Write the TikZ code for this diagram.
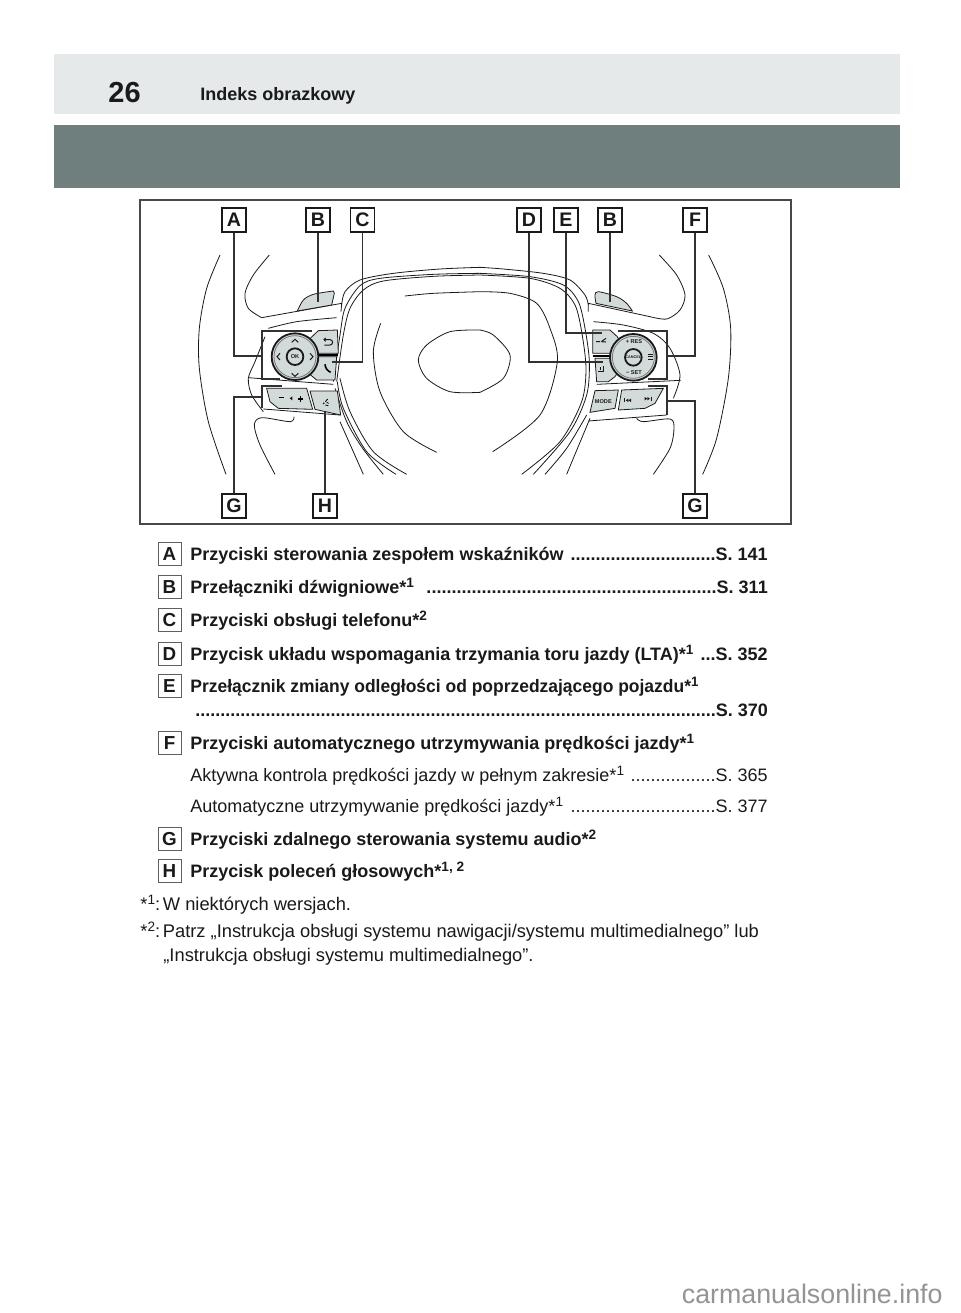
\documentclass[tikz,border=0pt]{standalone}
\usepackage{fontspec}
\setmainfont{Liberation Sans}
\usetikzlibrary{calc,positioning}
\definecolor{idx band}{HTML}{E6E9EA}
\definecolor{idx head}{HTML}{6F7F7D}
\definecolor{idx button}{HTML}{D3DADA}
\definecolor{idx ink}{HTML}{1A1A1A}
\tikzset{
 idx badge/.style={draw=idx ink,line width=.75pt,fill=white,minimum size=12pt,inner sep=0pt,
                   font=\fontsize{9.8}{10}\selectfont\bfseries,text=idx ink},
 idx key/.style={draw=idx ink!70,line width=.5pt,fill=white,minimum size=11.5pt,inner sep=0pt,
                 font=\fontsize{9.4}{10}\selectfont\bfseries,text=idx ink},
 idx leader/.style={line width=.6pt,draw=idx ink!90},
 idx bold/.style={anchor=base west,inner sep=0pt,text=idx ink,font=\fontsize{9}{10}\selectfont\bfseries},
 idx plain/.style={anchor=base west,inner sep=0pt,text=idx ink,font=\fontsize{9}{10}\selectfont},
 idx note/.style={idx plain,font=\fontsize{9.15}{10}\selectfont},
 idx right/.style={anchor=base east,inner sep=0pt},
 idx wheel/.style={line width=.4pt,draw=idx ink},
 idx btn/.style={line width=.4pt,draw=idx ink,fill=idx button},
 idx dial/.style={line width=.9pt,draw=idx ink,fill=idx button},
 idx icon/.style={line width=.5pt,draw=idx ink},
 idx tiny/.style={inner sep=0pt,text=idx ink,font=\fontsize{2.8}{3}\selectfont\bfseries},
 wheel left/.style={shift={(140,195)},scale=1/3},
 wheel right/.style={shift={(470,195)},scale=1/3}
}
\newcommand{\rmark}[1]{\raisebox{2.9pt}{\fontsize{6.8}{7}\selectfont #1}}
\begin{document}
\begin{tikzpicture}[x=.5pt,y=-.5pt]
 \useasboundingbox (0,0) rectangle (960,1313);
 \fill[white] (0,0) rectangle (960,1313);

 % Page head.
 \fill[idx band] (54,54) rectangle (900,114);
 \fill[idx head] (54,125) rectangle (900,188);
 \node[idx bold,font=\fontsize{14.5}{16}\selectfont\bfseries] (pagenum) at (108,102) {26};
 \node[idx bold] (pagetitle) at (200,100) {Indeks obrazkowy};

 \draw[line width=.6pt,draw=idx ink!80] (140,200) rectangle (791,524);

 % Left half of the wheel, in crop coordinates.
 \begin{scope}[wheel left]
  \draw[idx wheel] plot[smooth] coordinates {(240,180) (200,280) (178,400) (178,520) (205,680) (258,838)};
  \draw[idx wheel] plot[smooth] coordinates {(388,180) (340,240) (315,295) (325,340) (365,368)};
  \draw[idx wheel] (365,368) -- (605,325) -- (603,350);
  \filldraw[idx btn] plot[smooth] coordinates {(472,348) (490,315) (520,298) (580,288)} -- (583,295) -- (575,330) -- cycle;
  \draw[idx wheel] plot[smooth] coordinates {(605,330) (615,290) (660,255) (760,235) (900,222) (1020,217)};
  \draw[idx wheel] plot[smooth] coordinates {(580,560) (600,420) (615,340) (660,272) (720,250) (880,238) (1020,235)};
  \draw[idx wheel] plot[smooth] coordinates {(590,560) (610,420) (630,340) (670,285) (730,258) (880,244) (1020,240)};
  \draw[idx wheel] plot[smooth] coordinates {(585,580) (620,680) (668,760) (730,838)};
  \draw[idx wheel] plot[smooth] coordinates {(592,560) (610,640) (680,770) (768,838)};
  \draw[idx wheel] plot[smooth] coordinates {(600,550) (630,650) (700,770) (800,838)};
  \draw[idx wheel] plot[smooth] coordinates {(795,303) (880,295) (1020,290)};
  \draw[idx wheel] plot[smooth] coordinates {(722,385) (700,470) (720,590) (790,710) (890,772)};
  \draw[idx wheel] plot[smooth] coordinates {(1020,405) (930,410) (860,450) (835,495) (860,550) (930,590) (1020,592)};
  \draw[idx wheel] plot[smooth] coordinates {(385,400) (470,380) (590,368)};
  \draw[idx wheel] plot[smooth] coordinates {(375,425) (345,500) (325,550) (335,600) (370,650)};
  \draw[idx wheel] (325,548) -- (580,568);
  \draw[idx wheel] (370,642) -- (600,660);
  \draw[idx wheel] (600,680) -- (670,838);
  \draw[idx wheel] plot[smooth] coordinates {(405,838) (360,750) (343,690) (365,668) (450,680) (462,665)};
  % Buttons.
  \filldraw[idx btn] (500,440) -- (535,407) -- (592,405) -- (595,475) -- (500,475) -- cycle;
  \filldraw[idx btn] (500,485) -- (590,485) -- (585,555) -- (530,555) -- (500,530) -- cycle;
  \draw[line width=.9pt] (530,480) -- (595,480);
  \filldraw[idx btn] (380,580) -- (500,580) -- (518,643) -- (415,640) -- (390,620) -- cycle;
  \filldraw[idx btn] (510,588) -- (592,588) -- (602,660) -- (525,643) -- cycle;
  \filldraw[idx dial] (465,485) circle (70);
  \draw[idx wheel,draw=idx ink!60] (465,485) circle (63);
  \filldraw[idx dial] (465,485) circle (25);
  \draw[idx icon] (455,442) -- (465,433) -- (475,442);
  \draw[idx icon] (455,535) -- (465,544) -- (475,535);
  \draw[idx icon] (420,475) -- (411,485) -- (420,495);
  \draw[idx icon] (510,475) -- (519,485) -- (510,495);
  \node[idx tiny] (okmark) at (465,485) {OK};
  \draw[idx icon] (553,434) -- (570,434) arc (-90:90:8) -- (553,450);
  \draw[idx icon] (557,429) -- (552,434) -- (557,439);
  \draw[line width=.8pt] (555,508) to[bend right=30] (572,532);
  \draw[line width=.6pt] (416,608) -- (431,608) (475,612) -- (490,612) (482,604) -- (482,620);
  \fill[idx ink] (449,610) -- (457,604) -- (457,616) -- cycle;
  \fill[idx ink] (551,625) circle (3);
  \draw[line width=.4pt] (556,620) -- (563,612) (556,630) -- (565,632) (560,622) -- (566,625);
 \end{scope}

 % Right half of the wheel, in crop coordinates.
 \begin{scope}[wheel right]
  \draw[idx wheel] plot[smooth] coordinates {(716,180) (760,280) (782,400) (775,550) (740,730) (698,838)};
  \draw[idx wheel] plot[smooth] coordinates {(568,180) (620,240) (645,300) (630,345) (590,372) (540,365)};
  \draw[idx wheel] (540,365) -- (355,325) -- (355,350);
  \filldraw[idx btn] plot[smooth] coordinates {(378,325) (375,300) (385,290) (440,305) (470,325) (487,348)} -- cycle;
  \draw[idx wheel] plot[smooth] coordinates {(30,217) (100,222) (220,235) (300,255) (345,300) (355,330)};
  \draw[idx wheel] plot[smooth] coordinates {(30,235) (180,245) (280,270) (325,320) (345,400) (358,500) (350,600) (300,710) (190,838)};
  \draw[idx wheel] plot[smooth] coordinates {(30,240) (180,250) (270,280) (315,330) (335,410) (348,520) (335,620) (270,740) (155,838)};
  \draw[idx wheel] (360,670) -- (290,838);
  \draw[idx wheel] plot[smooth] coordinates {(350,660) (290,760) (225,838)};
  \draw[idx wheel] plot[smooth] coordinates {(30,290) (120,295) (200,325) (240,400) (262,500) (210,660) (68,770)};
  \draw[idx wheel] plot[smooth] coordinates {(30,405) (70,420) (120,480) (100,550) (30,592)};
  \draw[idx wheel] plot[smooth] coordinates {(370,380) (460,390) (550,415) (600,460) (630,540) (610,610)};
  \draw[idx wheel] (380,568) -- (632,556);
  \draw[idx wheel] (355,678) -- (590,660);
  \draw[idx wheel] plot[smooth] coordinates {(550,838) (600,760) (612,700) (600,672) (520,680) (500,670)};
  % Buttons.
  \filldraw[idx btn] (368,405) -- (420,405) -- (442,425) -- (470,475) -- (368,475) -- cycle;
  \filldraw[idx btn] (375,490) -- (470,490) -- (435,545) -- (415,560) -- (380,560) -- cycle;
  \draw[line width=.9pt] (368,482) -- (440,482);
  \filldraw[idx btn] (375,587) -- (445,585) -- (435,640) -- (360,652) -- cycle;
  \filldraw[idx btn] (455,585) -- (580,580) -- (555,625) -- (525,640) -- (445,645) -- cycle;
  \filldraw[idx dial] (490,487) circle (70);
  \draw[idx wheel,draw=idx ink!60] (490,487) circle (63);
  \filldraw[idx dial] (490,487) circle (25);
  \node[idx tiny,font=\fontsize{1.9}{2}\selectfont\bfseries] (cancelmark) at (490,487) {CANCEL};
  \node[idx tiny] (resmark) at (492,439) {+ RES};
  \node[idx tiny] (setmark) at (492,534) {− SET};
  \node[idx tiny] (modemark) at (400,621) {MODE};
  % Track and dial glyphs.
  \foreach \x in {467,475} \fill[idx ink] (\x,616) -- (\x+8,611) -- (\x+8,621) -- cycle;
  \draw[idx icon] (464,610) -- (464,622);
  \foreach \x in {524,532} \fill[idx ink] (\x+8,611) -- (\x,606) -- (\x,616) -- cycle;
  \draw[idx icon] (543,605) -- (543,617);
  \draw[idx icon] (535,478) -- (548,478) (535,485) -- (548,485) (535,492) -- (548,492);
  \draw[idx icon] (378,440) -- (390,440) (394,440) -- (408,430) (394,440) -- (408,441);
  \draw[idx icon] (385,530) -- (400,530) -- (400,512) (390,526) -- (390,516);
 \end{scope}

 % Button group outlines.
 \draw[idx leader] (312,331) -- (262,331) -- (262,379) -- (280,379);
 \draw[idx leader] (282,386) -- (262,386) -- (262,408);
 \draw[idx leader] (618,331) -- (667,331) -- (667,379) -- (648,379);
 \draw[idx leader] (648,386) -- (667,386) -- (667,415);

 % Callouts.
 \foreach \n/\l/\x/\y in {topA/A/234/220,topB/B/318/220,topC/C/362.5/220,topD/D/529/220,
                          topE/E/566/220,topBB/B/610/220,topF/F/695/220,
                          lowG/G/234/506,lowH/H/325/506,lowGG/G/695/506}
   \node[idx badge] (\n) at (\x,\y) {\l};
 \coordinate (endA) at (262,356);
 \coordinate (endB) at (318,302);
 \coordinate (endC) at (332,362);
 \coordinate (endD) at (603,362);
 \coordinate (endE) at (602,333);
 \coordinate (endBB) at (610,302);
 \coordinate (endF) at (667,356);
 \coordinate (endG) at (262,397);
 \coordinate (endH) at (325,412);
 \coordinate (endGG) at (667,401);
 \draw[idx leader] (topA) |- (endA);
 \draw[idx leader] (topB) -- (endB);
 \draw[idx leader] (topC) |- (endC);
 \draw[idx leader] (topD) |- (endD);
 \draw[idx leader] (topE) |- (endE);
 \draw[idx leader] (topBB) -- (endBB);
 \draw[idx leader] (topF) |- (endF);
 \draw[idx leader] (lowG) |- (endG);
 \draw[idx leader] (lowH) -- (endH);
 \draw[idx leader] (lowGG) |- (endGG);

 % Legend.
 \foreach \l/\y in {A/554,B/587,C/620,D/654,E/686,F/743,G/839,H/871}
   \node[idx key] (key\l) at (169.5,\y) {\l};

 \node[idx bold] (rowA) at (190,560) {Przyciski sterowania zespołem wskaźników};
 \node[idx bold,idx right] (pageA) at (768,560) {.............................S. 141};
 \node[idx bold] (rowB) at (190,593) {Przełączniki dźwigniowe*\rmark{1}};
 \node[idx bold,idx right] (pageB) at (768,593) {..........................................................S. 311};
 \node[idx bold] (rowC) at (190,626) {Przyciski obsługi telefonu*\rmark{2}};
 \node[idx bold] (rowD) at (190,660) {Przycisk układu wspomagania trzymania toru jazdy (LTA)*\rmark{1}};
 \node[idx bold,idx right] (pageD) at (768,660) {...S. 352};
 \node[idx bold] (rowE) at (190,692) {\scalebox{.97}[1]{Przełącznik zmiany odległości od poprzedzającego pojazdu*\rmark{1}}};
 \node[idx bold,idx right] (pageE) at (768,716) {........................................................................................................S. 370};
 \node[idx bold] (rowF) at (190,749) {Przyciski automatycznego utrzymywania prędkości jazdy*\rmark{1}};
 \node[idx plain] (rowFa) at (190,781) {Aktywna kontrola prędkości jazdy w pełnym zakresie*\rmark{1}};
 \node[idx plain,idx right] (pageFa) at (768,781) {.................S. 365};
 \node[idx plain] (rowFb) at (190,812) {Automatyczne utrzymywanie prędkości jazdy*\rmark{1}};
 \node[idx plain,idx right] (pageFb) at (768,812) {.............................S. 377};
 \node[idx bold] (rowG) at (190,845) {Przyciski zdalnego sterowania systemu audio*\rmark{2}};
 \node[idx bold] (rowH) at (190,877) {Przycisk poleceń głosowych*\rmark{1, 2}};

 \node[idx note] (noteA) at (140,910) {*\rmark{1}:\kern-2pt{} W niektórych wersjach.};
 \node[idx note] (noteB) at (140,937) {*\rmark{2}:\kern-2pt{} Patrz „Instrukcja obsługi systemu nawigacji/systemu multimedialnego” lub};
 \node[idx note] (noteBb) at (163,961) {„Instrukcja obsługi systemu multimedialnego”.};

 \node[idx plain,anchor=base east,text=black!42,font=\fontsize{13.4}{14}\selectfont] (siteurl) at (943,1303) {carmanualsonline.info};
\end{tikzpicture}
\end{document}
